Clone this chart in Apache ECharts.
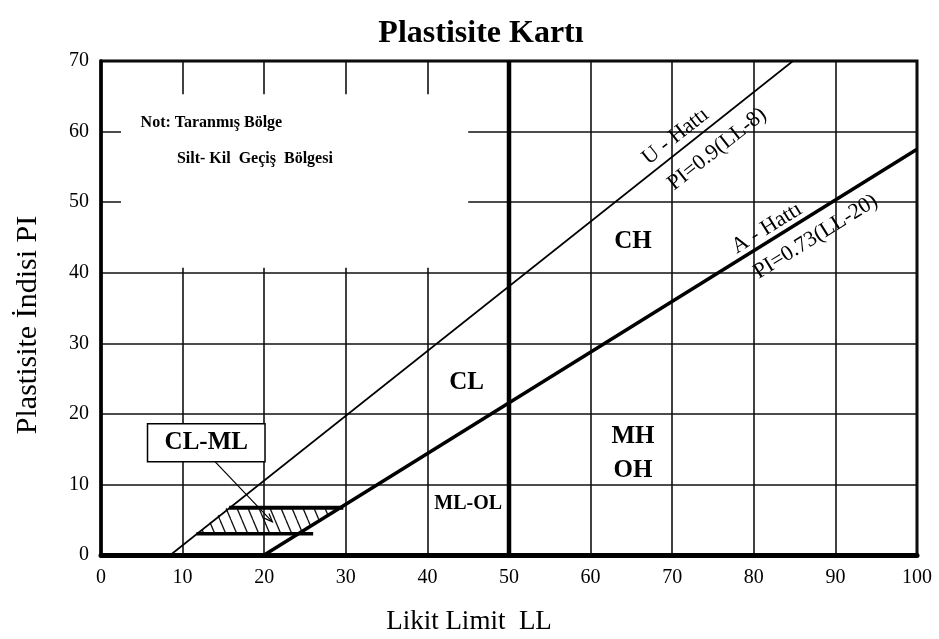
<!DOCTYPE html>
<html>
<head>
<meta charset="utf-8">
<script src="https://cdn.jsdelivr.net/npm/echarts@6/dist/echarts.min.js"></script>
<style>
html,body{margin:0;padding:0;background:#fff;}
#chart{width:939px;height:639px;}
</style>
</head>
<body>
<div id="chart"></div>
<script>
// ---- data ----
const titleText = 'Plastisite Kartı';
const xName = 'Likit Limit  LL';
const yName = 'Plastisite İndisi PI';
const xRange = [0, 100, 10];
const yRange = [0, 70, 10];

const uLine = [[8.5, 0], [84.8, 70]];          // U - Hattı
const aLine = [[20, 0], [100, 57.5]];          // A - Hattı
const llDivider = [[50, 0], [50, 70]];         // LL = 50
const ctlUpper = [[15.7, 6.7], [29.7, 6.7]];   // PI = 7 line
const ctlLower = [[11.7, 3.0], [26.0, 3.0]];   // PI = 4 line
const hatchZone = [[11.8, 3.0], [15.4, 6.7], [29.2, 6.7], [24.1, 3.0]];
const noteBox = [[2.45, 40.7], [45.0, 65.3]];
const clmlBox = [[5.7, 13.2], [20.1, 18.6]];
const leader = [[14.0, 13.2], [21.0, 4.7]];

const zoneNames = ['CL', 'CH', 'MH', 'OH', 'ML-OL'];
const zonePos = [[44.8, 24.4], [65.2, 44.4], [65.2, 16.8], [65.2, 12.0], [45.0, 7.2]];
const zoneSize = [25, 25, 25, 25, 20];

const lineLabelNames = ['U - Hattı', 'PI=0.9(LL-8)', 'A - Hattı', 'PI=0.73(LL-20)'];
const lineLabelPos = [[70.4, 59.3], [75.5, 57.5], [81.6, 46.3], [87.6, 45.1]];
const lineLabelLine = ['u', 'u', 'a', 'a'];

const noteLines = ['Not: Taranmış Bölge', 'Silt- Kil  Geçiş  Bölgesi'];
const notePos = [[4.85, 61.2], [9.3, 56.1]];
const clmlText = 'CL-ML';

// ---- chart ----
const serif = '"Liberation Serif", "Times New Roman", serif';
const chart = echarts.init(document.getElementById('chart'));

// hatch pattern
const pc = document.createElement('canvas');
pc.width = 11; pc.height = 26;
const g = pc.getContext('2d');
g.strokeStyle = '#111'; g.lineWidth = 1.3;
[-11, 0, 11].forEach(function (o) {
  g.beginPath(); g.moveTo(o, 0); g.lineTo(o + 11, 26); g.stroke();
});

function rectItem(box, fill, stroke, lw) {
  return function (params, api) {
    const p0 = api.coord(box[0]), p1 = api.coord(box[1]);
    return {
      type: 'rect',
      shape: { x: Math.min(p0[0], p1[0]), y: Math.min(p0[1], p1[1]), width: Math.abs(p1[0] - p0[0]), height: Math.abs(p1[1] - p0[1]) },
      style: { fill: fill, stroke: stroke, lineWidth: lw }
    };
  };
}

function lineAngle(api, line) {
  const a = api.coord(line[0]), b = api.coord(line[1]);
  return Math.atan2(a[1] - b[1], b[0] - a[0]);
}

function plainLine(name, data, width) {
  return { name: name, type: 'line', data: data, symbol: 'none', silent: true, z: 5,
    lineStyle: { color: '#000', width: width }, clip: false };
}

const option = {
  animation: false,
  backgroundColor: '#fff',
  title: {
    text: titleText, left: 476, top: 13, textAlign: 'center',
    textStyle: { fontFamily: serif, fontWeight: 'bold', fontSize: 32, color: '#000' }
  },
  grid: { left: 101, top: 61, width: 816, height: 494, show: true, borderColor: '#000', borderWidth: 3, backgroundColor: 'transparent' },
  xAxis: {
    type: 'value', min: xRange[0], max: xRange[1], interval: xRange[2],
    axisLine: { show: true, onZero: false, lineStyle: { color: '#000', width: 5 } },
    axisTick: { show: false },
    axisLabel: { fontFamily: serif, fontSize: 20, color: '#000', margin: 13 },
    splitLine: { show: true, lineStyle: { color: '#111', width: 1.6 } }
  },
  yAxis: {
    type: 'value', min: yRange[0], max: yRange[1], interval: yRange[2],
    axisLine: { show: true, onZero: false, lineStyle: { color: '#000', width: 3.5 } },
    axisTick: { show: false },
    axisLabel: { fontFamily: serif, fontSize: 20, color: '#000', margin: 12 },
    splitLine: { show: true, lineStyle: { color: '#111', width: 1.6 } }
  },
  graphic: [
    { type: 'text', x: 469, y: 622, style: { text: xName, font: '27px ' + serif, fill: '#000', align: 'center', verticalAlign: 'middle' } },
    { type: 'text', x: 28, y: 325, rotation: Math.PI / 2, style: { text: yName, font: '30px ' + serif, fill: '#000', align: 'center', verticalAlign: 'middle' } }
  ],
  series: [
    { name: 'note box', type: 'custom', z: 3, silent: true, data: [0], renderItem: rectItem(noteBox, '#fff', null, 0) },
    plainLine('LL=50', llDivider, 4.5),
    plainLine('U - Hattı', uLine, 1.6),
    plainLine('A - Hattı', aLine, 3.5),
    {
      name: 'hatch', type: 'custom', z: 4, silent: true, data: [0],
      renderItem: function (params, api) {
        return { type: 'polygon', shape: { points: hatchZone.map(function (p) { return api.coord(p); }) },
          style: { fill: { image: pc, repeat: 'repeat' }, stroke: null } };
      }
    },
    plainLine('PI=7', ctlUpper, 4),
    plainLine('PI=4', ctlLower, 3.5),
    { name: 'CL-ML box', type: 'custom', z: 6, silent: true, data: [0], renderItem: rectItem(clmlBox, '#fff', '#000', 1.5) },
    {
      name: 'leader', type: 'custom', z: 6, silent: true, data: [0],
      renderItem: function (params, api) {
        const a = api.coord(leader[0]), b = api.coord(leader[1]);
        const ang = Math.atan2(b[1] - a[1], b[0] - a[0]);
        const L = 9, w = 0.38;
        const p1 = [b[0] - L * Math.cos(ang - w), b[1] - L * Math.sin(ang - w)];
        const p2 = [b[0] - L * Math.cos(ang + w), b[1] - L * Math.sin(ang + w)];
        return { type: 'group', children: [
          { type: 'line', shape: { x1: a[0], y1: a[1], x2: b[0], y2: b[1] }, style: { stroke: '#000', lineWidth: 1.2 } },
          { type: 'polyline', shape: { points: [p1, b, p2] }, style: { stroke: '#000', lineWidth: 1.2, fill: null } }
        ] };
      }
    },
    {
      name: 'zones', type: 'custom', z: 7, silent: true, data: zonePos,
      renderItem: function (params, api) {
        const i = params.dataIndex;
        const p = api.coord(zonePos[i]);
        return { type: 'text', x: p[0], y: p[1],
          style: { text: zoneNames[i], font: 'bold ' + zoneSize[i] + 'px ' + serif, fill: '#000', align: 'center', verticalAlign: 'middle' } };
      }
    },
    {
      name: 'line labels', type: 'custom', z: 7, silent: true, data: lineLabelPos,
      renderItem: function (params, api) {
        const i = params.dataIndex;
        const p = api.coord(lineLabelPos[i]);
        const rot = lineAngle(api, lineLabelLine[i] === 'u' ? uLine : aLine);
        return { type: 'text', x: p[0], y: p[1], rotation: rot,
          style: { text: lineLabelNames[i], font: '22px ' + serif, fill: '#000', align: 'center', verticalAlign: 'middle' } };
      }
    },
    {
      name: 'note', type: 'custom', z: 7, silent: true, data: notePos,
      renderItem: function (params, api) {
        const i = params.dataIndex;
        const p = api.coord(notePos[i]);
        return { type: 'text', x: p[0], y: p[1],
          style: { text: noteLines[i], font: 'bold 16px ' + serif, fill: '#000', align: 'left', verticalAlign: 'middle' } };
      }
    },
    {
      name: 'CL-ML', type: 'custom', z: 8, silent: true, data: [0],
      renderItem: function (params, api) {
        const p = api.coord([(clmlBox[0][0] + clmlBox[1][0]) / 2, (clmlBox[0][1] + clmlBox[1][1]) / 2]);
        return { type: 'text', x: p[0], y: p[1],
          style: { text: clmlText, font: 'bold 25px ' + serif, fill: '#000', align: 'center', verticalAlign: 'middle' } };
      }
    }
  ]
};
chart.setOption(option);
</script>
</body>
</html>
